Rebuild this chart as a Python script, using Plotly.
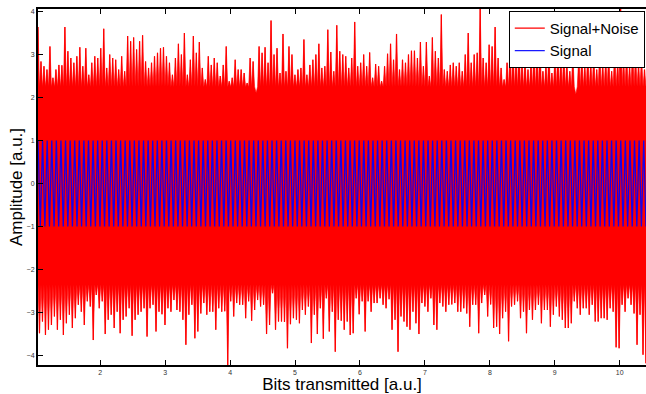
import plotly.graph_objects as go

# Upper envelope peaks of the noisy signal (read left to right, ~every 3 px)
noisy_tops = [
    3.64, 2.84, 2.73, 2.65, 3.19, 2.46, 2.65, 2.76, 2.75, 3.64,
    3.08, 2.92, 2.81, 2.96, 3.17, 2.73, 3.15, 2.53, 2.81, 2.96,
    2.92, 3.15, 3.60, 2.69, 3.00, 2.92, 2.88, 2.65, 2.96, 2.61,
    3.43, 3.31, 3.40, 3.12, 3.31, 3.45, 2.84, 2.69, 2.81, 2.96,
    3.04, 3.15, 3.17, 2.96, 2.81, 2.53, 2.92, 3.25, 3.00, 3.50,
    2.53, 2.88, 3.43, 3.04, 3.29, 2.69, 2.42, 2.96, 2.76, 2.92,
    2.81, 2.50, 2.76, 3.19, 2.38, 2.46, 2.88, 2.65,
    2.65, 2.57, 2.34, 2.92, 2.84, 2.11, 3.19, 3.04, 3.17, 2.81,
    3.79, 3.00, 3.15, 2.57, 3.48, 2.61, 3.19, 3.00, 2.53, 2.65,
    2.69, 3.35, 2.53, 2.76, 2.88, 3.00, 3.25, 2.69, 2.73, 3.58,
    3.06, 2.61, 3.68, 3.08, 3.00, 2.96, 2.69, 2.92, 3.76, 2.73,
    2.81, 3.00, 2.73, 3.05, 2.46, 2.78, 2.73, 2.38, 2.73, 3.02,
    3.25, 2.88, 3.48, 2.65, 2.88, 2.81, 3.00, 3.09, 3.09, 2.92,
    3.29, 2.73, 3.29, 2.50, 3.40, 3.08, 2.92, 3.93,
    2.65, 2.61, 2.76, 2.81, 2.73, 2.81, 2.61, 3.00, 3.50, 2.81,
    3.00, 3.04, 4.09, 2.92, 2.81, 3.23, 3.19, 3.64, 2.92, 2.69,
    2.42, 2.81, 3.12, 3.15, 2.92, 3.27, 2.81, 2.92, 2.65, 2.84,
    3.15, 3.00, 3.31, 2.61, 2.76, 3.08, 2.57, 2.92, 3.15, 2.88,
    3.08, 2.81, 2.61, 3.00, 2.08, 2.96, 3.04, 2.76, 3.08, 2.81,
    3.00, 2.65, 3.08, 2.81, 2.92, 3.00, 2.61, 3.08, 2.84, 4.09,
    2.92, 3.04, 2.76, 3.15, 3.00, 2.81, 2.92, 2.65,
]

# Lower envelope troughs of the noisy signal (read left to right, ~every 3 px)
noisy_bottoms = [
    -3.48, -3.21, -3.52, -3.40, -3.29, -3.09, -3.40, -3.17, -3.52, -3.25,
    -3.05, -3.36, -3.13, -2.82, -2.98, -3.29, -2.74, -2.86, -3.64, -2.59,
    -2.90, -2.74, -3.50, -3.17, -3.05, -3.36, -2.98, -3.48, -3.17, -3.09,
    -2.90, -3.54, -3.17, -3.05, -2.98, -2.90, -3.56, -2.90, -2.82, -3.44,
    -2.98, -3.04, -3.29, -2.90, -2.98, -2.71, -2.94, -2.98, -3.17, -3.75,
    -3.05, -2.82, -3.60, -3.44, -3.02, -2.78, -3.05, -2.98, -2.98, -3.40,
    -2.90, -2.98, -2.97, -4.25, -2.74, -3.09, -2.78, -2.82,
    -2.82, -3.13, -2.74, -3.19, -2.94, -2.71, -2.86, -2.82, -3.50, -3.29,
    -2.55, -3.40, -3.21, -3.21, -3.22, -3.83, -3.27, -3.13, -3.17, -3.25,
    -2.94, -3.05, -2.86, -3.71, -3.05, -3.50, -2.90, -3.61, -2.67, -3.44,
    -2.98, -3.91, -3.17, -3.19, -3.40, -3.21, -3.52, -3.48, -2.67, -3.04,
    -2.74, -3.44, -2.74, -2.98, -2.78, -2.78, -2.67, -2.82, -2.90, -2.69,
    -3.40, -3.17, -3.91, -3.09, -3.21, -3.33, -3.40, -2.98, -3.25, -3.50,
    -2.78, -2.86, -2.98, -2.67, -3.29, -3.40, -2.78, -2.86,
    -2.98, -2.82, -2.81, -2.78, -2.98, -2.98, -2.90, -3.02, -3.33, -2.82,
    -2.82, -3.48, -2.78, -2.59, -3.09, -2.81, -3.36, -3.33, -3.50, -3.13,
    -2.98, -3.67, -2.86, -2.82, -2.74, -3.13, -2.98, -3.48, -2.94, -3.17,
    -2.94, -2.82, -3.25, -2.94, -2.94, -3.33, -3.05, -2.86, -3.09, -3.17,
    -3.36, -3.36, -3.25, -2.74, -2.90, -3.05, -2.90, -2.90, -3.05, -2.82,
    -3.21, -3.21, -3.13, -3.13, -3.17, -2.90, -2.98, -3.81, -3.83, -2.82,
    -2.98, -2.67, -2.82, -3.02, -3.75, -3.05, -3.98, -4.18,
]

# Levels where the gaps between noise spikes end (edge of the solid red core)
core_upper = 2.25
core_lower = -2.35

# Transmitted signal levels (+1 / -1), one per displayed sample
signal_levels = [
    1, -1, 1, -1, 1, -1, 1, -1, 1, -1, 1, -1, 1, -1, 1, -1, 1, -1, 1, -1,
    1, -1, 1, -1, 1, -1, 1, -1, 1, -1, 1, -1, 1, -1, 1, -1, 1, -1, 1, -1,
    1, -1, 1, -1, 1, -1, 1, -1, 1, -1, 1, -1, 1, -1, 1, -1, 1, -1, 1, -1,
    1, -1, 1, -1, 1, -1, 1, -1, 1, -1, 1, -1, 1, -1, 1, -1, 1, -1, 1, -1,
    1, -1, 1, -1, 1, -1, 1, -1, 1, -1, 1, -1, 1, -1, 1, -1, 1, -1, 1, -1,
    1, -1, 1, -1, 1, -1, 1, -1, 1, -1, 1, -1, 1, -1, 1, -1, 1, -1, 1, -1,
    1, -1, 1, -1, 1, -1, 1, -1, 1, -1, 1, -1, 1, -1, 1, -1, 1, -1, 1, -1,
    1, -1, 1, -1, 1, -1, 1, -1, 1, -1, 1, -1, 1, -1, 1, -1, 1, -1, 1, -1,
    1, -1, 1, -1, 1, -1, 1, -1, 1, -1, 1, -1, 1, -1, 1, -1, 1, -1, 1, -1,
    1, -1, 1, -1, 1, -1, 1, -1, 1, -1, 1, -1, 1, -1, 1, -1, 1, -1, 1, -1,
    1, -1, 1, -1, 1, -1, 1, -1, 1, -1, 1, -1, 1, -1, 1, -1, 1, -1, 1, -1,
    1, -1, 1, -1, 1, -1, 1, -1, 1, -1, 1, -1, 1, -1, 1, -1, 1, -1, 1, -1,
    1, -1, 1, -1, 1, -1, 1, -1, 1, -1, 1, -1, 1, -1, 1, -1, 1, -1, 1, -1,
    1, -1, 1, -1, 1, -1,
]

x_first = 1.042   # first sample position
x_last = 10.405   # last sample position

n = min(len(noisy_tops), len(noisy_bottoms))
step = (x_last - x_first) / (n - 0.5)
top_x = [x_first + i * step for i in range(n)]
bot_x = [x_first + (i + 0.5) * step for i in range(n)]

# zig-zag noisy trace: top peak, then bottom trough
noise_x, noise_y = [], []
for i in range(n):
    noise_x += [top_x[i], bot_x[i]]
    noise_y += [noisy_tops[i], noisy_bottoms[i]]

# filled body of the noise: spiky upper edge, spiky lower edge
body_x, body_y = [], []
for i in range(n):
    body_x += [top_x[i], bot_x[i]]
    body_y += [noisy_tops[i], core_upper]
for i in reversed(range(n)):
    body_x += [bot_x[i], top_x[i]]
    body_y += [noisy_bottoms[i], core_lower]

m = len(signal_levels)
sstep = (x_last - x_first) / (m - 1)
sig_x = [x_first + i * sstep for i in range(m)]

red = "#ff0000"
fig = go.Figure()
fig.add_trace(go.Scatter(x=body_x, y=body_y, mode="lines", fill="toself",
                         fillcolor=red, line=dict(width=0.6, color=red, simplify=False),
                         showlegend=False, hoverinfo="skip", legendgroup="noise"))
fig.add_trace(go.Scatter(x=noise_x, y=noise_y, mode="lines", name="Signal+Noise",
                         legendgroup="noise",
                         line=dict(color=red, width=1.2, simplify=False)))
fig.add_trace(go.Scatter(x=sig_x, y=signal_levels, mode="lines", name="Signal",
                         line=dict(color="rgba(0,0,255,0.9)", width=1.3, simplify=False)))

font_family = "Liberation Sans, Arial, sans-serif"
fig.update_layout(
    width=646, height=394,
    margin=dict(l=38, r=0, t=9, b=29, autoexpand=False),
    paper_bgcolor="white", plot_bgcolor="white",
    font=dict(family=font_family, color="black"),
    showlegend=True,
    legend=dict(x=0.998, y=0.995, xanchor="right", yanchor="top",
                bgcolor="white", bordercolor="black", borderwidth=1,
                font=dict(size=15, family=font_family),
                tracegroupgap=0, itemwidth=30),
    xaxis=dict(range=[1.042, 10.405], tickvals=[2, 3, 4, 5, 6, 7, 8, 9, 10],
               ticks="inside", ticklen=5, tickwidth=1, tickcolor="black",
               showline=True, linecolor="black", linewidth=2, mirror="ticks",
               showgrid=False, zeroline=False,
               tickfont=dict(size=7, color="#333"),
               title=dict(text="Bits transmitted [a.u.]", font=dict(size=17), standoff=2)),
    yaxis=dict(range=[-4.22, 4.06], tickvals=[-4, -3, -2, -1, 0, 1, 2, 3, 4],
               ticks="inside", ticklen=5, tickwidth=1, tickcolor="black",
               showline=True, linecolor="black", linewidth=2, mirror=False,
               showgrid=False, zeroline=False,
               tickfont=dict(size=7, color="#333"),
               title=dict(text="Amplitude [a.u.]", font=dict(size=17), standoff=0)),
)

fig.write_html("out.html")
